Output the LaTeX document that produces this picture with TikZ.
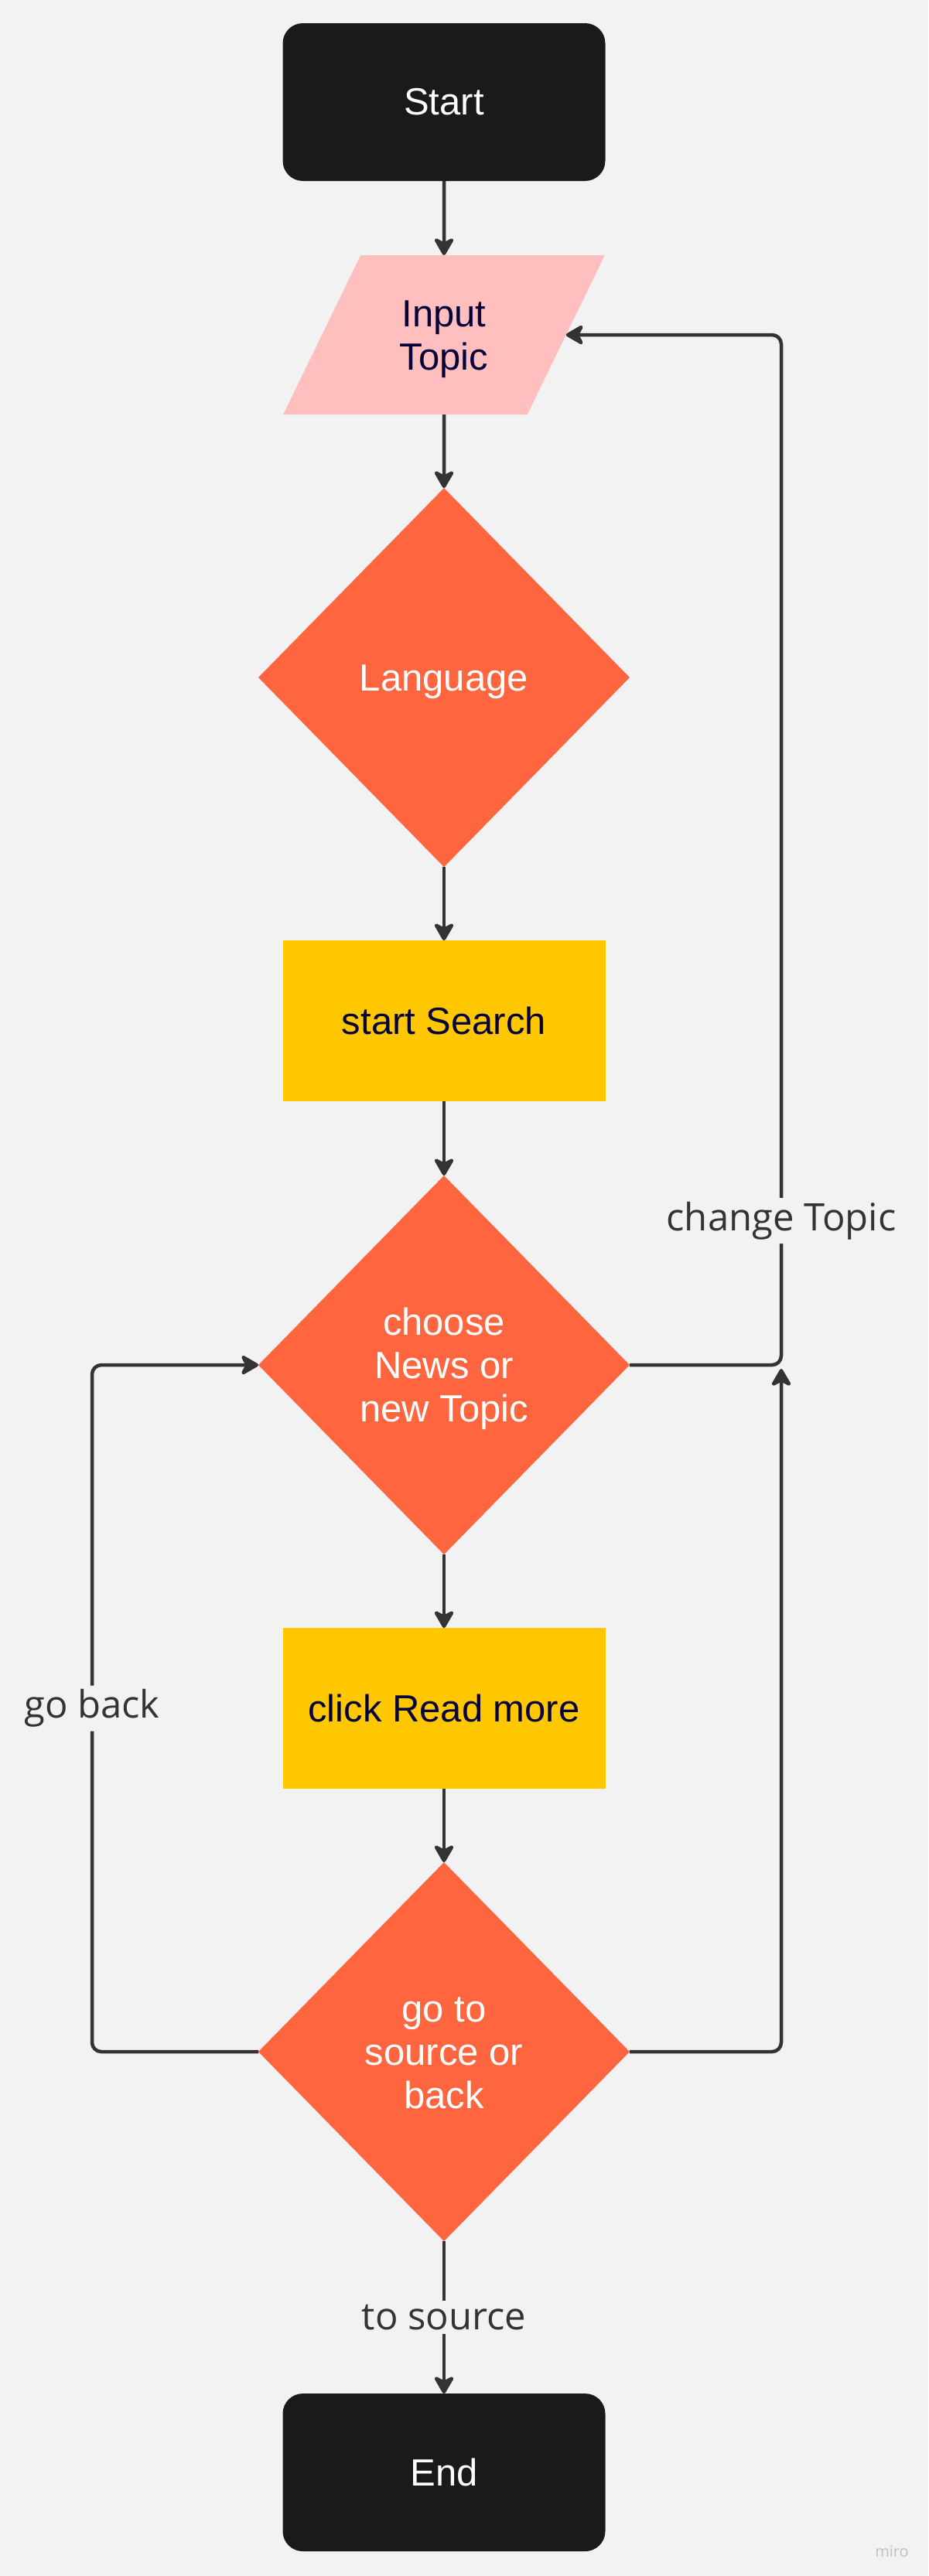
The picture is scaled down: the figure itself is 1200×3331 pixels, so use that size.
\documentclass[tikz,border=0pt]{standalone}
\usepackage{fontspec}
\setmainfont{Liberation Sans}
\newfontfamily\lblfont{Open Sans}
\usepackage{xcolor}
\usetikzlibrary{shapes.geometric, arrows.meta, positioning, calc}

\definecolor{bg}{HTML}{F2F2F2}
\definecolor{ink}{HTML}{050038}
\definecolor{term}{HTML}{1A1A1A}
\definecolor{inp}{HTML}{FFBFBF}
\definecolor{dec}{HTML}{FF6640}
\definecolor{proc}{HTML}{FFC700}
\definecolor{wire}{HTML}{333333}

\newcommand{\dtext}[1]{\raisebox{-6pt}[\height][\depth]{\begin{tabular}{@{}c@{}}#1\end{tabular}}}

\begin{document}
\begin{tikzpicture}[x=1pt, y=1pt, node distance=96pt,
    every node/.style={align=center, inner sep=0pt, outer sep=0pt, font=\fontsize{49}{56}\selectfont},
    terminal/.style={rectangle, rounded corners=26pt, fill=term, text=white, minimum width=417pt, minimum height=204pt},
    io/.style={trapezium, trapezium left angle=64.6, trapezium right angle=115.4, trapezium stretches, fill=inp, text=ink, minimum width=417pt, minimum height=206pt},
    decision/.style={diamond, fill=dec, text=white, minimum width=480pt, minimum height=490pt},
    process/.style={rectangle, fill=proc, text=ink, minimum width=417pt, minimum height=208pt},
    flow/.style={draw=wire, line width=4.5pt, rounded corners=12pt, -{Stealth[length=27pt, width=31pt, inset=8pt, round]}},
    lbl/.style={fill=bg, text=wire, font=\lblfont\fontsize{49}{56}\selectfont, inner sep=5pt}]
        \fill[bg] (0,0) rectangle (1200,-3331);
        \useasboundingbox (0,0) rectangle (1200,-3331);

        \node (start) [terminal] at (574,-132) {Start};
        \node (input) [io, below=of start] {\dtext{Input\\Topic}};
        \node (lang) [decision, below=95pt of input] {\dtext{Language}};
        \node (search) [process, below=95pt of lang] {start Search};
        \node (choose) [decision, below=of search] {\dtext{choose\\News or\\new Topic}};
        \node (read) [process, below=95pt of choose] {click Read more};
        \node (source) [decision, below=95pt of read] {\dtext{go to\\source or\\back}};
        \node (end) [terminal, below=197pt of source] {End};
        \node (brand) [text=black!25, font=\lblfont\fontsize{20}{24}\selectfont] at (1153,-3299) {miro};

        \coordinate (turn) at ($(choose.east)+(196,0)$);
        \coordinate (back) at ($(source.west)+(-215,0)$);

        \draw[flow] (start) -- (input);
        \draw[flow] (input) -- (lang);
        \draw[flow] (lang) -- (search);
        \draw[flow] (search) -- (choose);
        \draw[flow] (choose) -- (read);
        \draw[flow] (read) -- (source);
        \draw[flow] (source) -- node[lbl] {to source} (end);
        \draw[flow] (choose.east) -- (turn) -- node[lbl, pos=0.14] {change Topic} (turn |- input.right side) -- (input.right side);
        \draw[flow] (source.east) -- ++(196,0) -- ($(turn)+(0,-5)$);
        \draw[flow] (source.west) -- (back) -- node[lbl] {go back} (back |- choose.west) -- (choose.west);
    \end{tikzpicture}
\end{document}
